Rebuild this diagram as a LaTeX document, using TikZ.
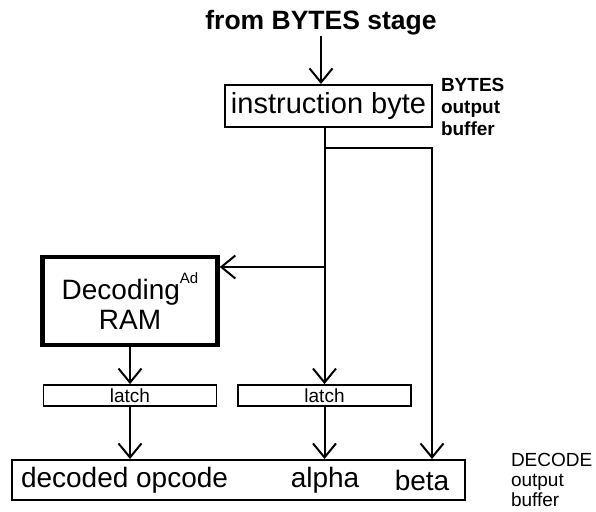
\documentclass[tikz,border=0pt]{standalone}
\usepackage{fontspec}
\setmainfont{Liberation Sans}
\usetikzlibrary{arrows.meta}

\begin{document}
\begin{tikzpicture}[x=1pt,y=-1pt,line width=2pt,
                >={Straight Barb[length=14pt,width=23pt]}]
              \tikzstyle{every node}=[inner sep=0pt]
              \tikzstyle{buf}=[draw, rectangle, line width=2pt]
              \tikzstyle{latchbox}=[draw, rectangle, line width=1.8pt, minimum width=173pt, minimum height=21pt, font=\fontsize{19}{19}\selectfont]
              \tikzstyle{big}=[font=\fontsize{28}{30}\selectfont]
              \tikzstyle{note}=[align=left, anchor=north west]

              \useasboundingbox (0,0) rectangle (596,511);

              % BYTES stage side
              \node[font=\bfseries\fontsize{26.5}{28}\selectfont] (title) at (321,23) {from BYTES stage};
              \node[buf, font=\fontsize{29}{30}\selectfont, minimum width=207pt, minimum height=42pt] (instr) at (328.5,106) {instruction byte};
              \node[note, font=\bfseries\fontsize{19}{22}\selectfont] (bytesbuf) at (440,77) {BYTES\\output\\buffer};

              % decoding
              \node[buf, line width=4.5pt, big, align=center, minimum width=175pt, minimum height=88pt] (ram) at (130,301)
                {Decoding\raisebox{16pt}{\fontsize{15}{15}\selectfont Ad}\\RAM};
              \node[latchbox] (latchA) at (130,395.5) {latch};
              \node[latchbox] (latchB) at (324.5,395.5) {latch};

              % DECODE output buffer
              \node[buf, minimum width=453pt, minimum height=40pt] (outbuf) at (238.5,480) {};
              \node[big, anchor=west] (opcode) at (20,480) {decoded opcode};
              \node[big] (alpha) at (325,480) {alpha};
              \node[big] (beta) at (422,480) {beta};
              \node[note, font=\fontsize{19}{20}\selectfont] (decodebuf) at (510,452) {DECODE\\output\\buffer};

              \coordinate (split) at (324.5,148);
              \coordinate (corner) at (432,148);
              \coordinate (tap) at (324.5,267);

              \draw[->] (title.south) -- (title.south |- instr.north);
              \draw[->] (latchB.north |- instr.south) -- (latchB.north);
              \draw[->] (split) -- (corner) -- (corner |- outbuf.north);
              \draw[->] (tap) -- (ram.east |- tap);
              \draw[->] (ram.south) -- (latchA.north);
              \draw[->] (latchA.south) -- (latchA.south |- outbuf.north);
              \draw[->] (latchB.south) -- (latchB.south |- outbuf.north);
            \end{tikzpicture}
\end{document}
